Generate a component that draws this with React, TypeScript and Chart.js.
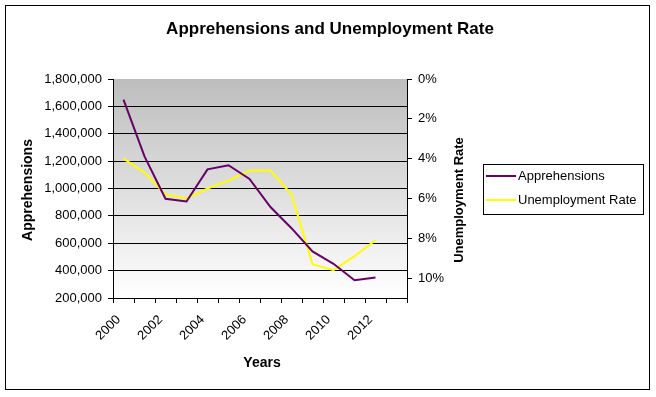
import React, { useEffect, useRef } from "react";
import { Chart, registerables } from "chart.js";

Chart.register(...registerables);

const years = ["2000","2001","2002","2003","2004","2005","2006","2007","2008","2009","2010","2011","2012","2013"];
const apprehensions = [1650000, 1235000, 925000, 905000, 1140000, 1170000, 1070000, 865000, 710000, 540000, 450000, 330000, 350000];
const unemploymentRate = [4.0, 4.7, 5.8, 6.0, 5.5, 5.1, 4.6, 4.6, 5.8, 9.3, 9.6, 8.9, 8.1];

const titleText = "Apprehensions and Unemployment Rate";
const leftTitle = "Apprehensions";
const rightTitle = "Unemployment Rate";
const xTitle = "Years";

const PURPLE = "#660066";
const YELLOW = "#FFFF00";
const FONT = "'Liberation Sans', Arial, sans-serif";

const decorPlugin = {
  id: "decor",
  beforeDraw(chart: any) {
    const { ctx, chartArea: a } = chart;
    ctx.save();
    const g = ctx.createLinearGradient(0, a.top, 0, a.bottom);
    g.addColorStop(0, "#BDBDBD");
    g.addColorStop(1, "#FFFFFF");
    ctx.fillStyle = g;
    ctx.fillRect(a.left, a.top, a.right - a.left, a.bottom - a.top);
    ctx.restore();
  },
  afterDraw(chart: any) {
    const { ctx } = chart;
    ctx.save();
    ctx.fillStyle = "#000";
    ctx.textAlign = "center";
    ctx.textBaseline = "middle";
    ctx.font = `bold 17px ${FONT}`;
    ctx.fillText(titleText, 330, 29);
    ctx.font = `bold 14px ${FONT}`;
    ctx.fillText(xTitle, 262, 363);
    ctx.save();
    ctx.translate(28, 190);
    ctx.rotate(-Math.PI / 2);
    ctx.fillText(leftTitle, 0, 0);
    ctx.restore();
    ctx.save();
    ctx.font = `bold 13px ${FONT}`;
    ctx.translate(459, 200);
    ctx.rotate(-Math.PI / 2);
    ctx.fillText(rightTitle, 0, 0);
    ctx.restore();

    // legend
    ctx.strokeStyle = "#000";
    ctx.lineWidth = 1;
    ctx.strokeRect(483.5, 164.5, 160, 50);
    const ds = chart.data.datasets;
    const rows = [176, 200];
    ctx.font = `13px ${FONT}`;
    ctx.textAlign = "left";
    ds.forEach((d: any, i: number) => {
      ctx.strokeStyle = d.borderColor;
      ctx.lineWidth = 2;
      ctx.beginPath();
      ctx.moveTo(486, rows[i]);
      ctx.lineTo(516, rows[i]);
      ctx.stroke();
      ctx.fillStyle = "#000";
      ctx.fillText(d.label, 518, rows[i]);
    });

    // outer border
    ctx.strokeStyle = "#000";
    ctx.lineWidth = 1;
    ctx.strokeRect(5.5, 5.5, 644, 384);
    ctx.restore();
  },
};

export default function App() {
  const ref = useRef<HTMLCanvasElement>(null);
  useEffect(() => {
    if (!ref.current) return;
    const tickFont = { family: FONT, size: 13 };
    const chart = new Chart(ref.current, {
      type: "line",
      data: {
        labels: years,
        datasets: [
          {
            label: "Apprehensions",
            data: apprehensions,
            borderColor: PURPLE,
            backgroundColor: PURPLE,
            borderWidth: 2,
            pointRadius: 0,
            tension: 0,
            yAxisID: "y",
          },
          {
            label: "Unemployment Rate",
            data: unemploymentRate,
            borderColor: YELLOW,
            backgroundColor: YELLOW,
            borderWidth: 2,
            pointRadius: 0,
            tension: 0,
            yAxisID: "y1",
          },
        ],
      },
      options: {
        responsive: false,
        animation: false,
        layout: { padding: { left: 0, top: 79, right: 189, bottom: 44 } },
        plugins: { legend: { display: false }, title: { display: false }, tooltip: { enabled: false } },
        scales: {
          x: {
            type: "category",
            offset: true,
            grid: { offset: true, drawOnChartArea: false, tickLength: 5, color: "#000", tickColor: "#000" },
            border: { display: true, color: "#000", width: 1 },
            ticks: {
              autoSkip: false,
              minRotation: 45,
              maxRotation: 45,
              padding: 9,
              labelOffset: -5,
              color: "#000",
              font: tickFont,
              callback: (_v: any, i: number) => (i % 2 === 0 && i < apprehensions.length ? years[i] : ""),
            },
            afterFit: (s: any) => { s.height = 55; },
          },
          y: {
            position: "left",
            min: 200000,
            max: 1800000,
            grid: {
              tickLength: 5,
              tickColor: "#000",
              color: (c: any) => (c.tick && c.tick.value === 1800000 ? "rgba(0,0,0,0)" : "#000"),
            },
            border: { display: true, color: "#000", width: 1 },
            ticks: {
              stepSize: 200000,
              padding: 6,
              color: "#000",
              font: tickFont,
              callback: (v: any) => Number(v).toLocaleString("en-US"),
            },
            afterFit: (s: any) => { s.width = 113; },
          },
          y1: {
            position: "right",
            reverse: true,
            min: 0,
            max: 11,
            grid: { drawOnChartArea: false, tickLength: 5, color: "#000", tickColor: "#000" },
            border: { display: true, color: "#000", width: 1 },
            ticks: {
              stepSize: 2,
              includeBounds: false,
              padding: 6,
              color: "#000",
              font: tickFont,
              callback: (v: any) => `${v}%`,
            },
            afterFit: (s: any) => { s.width = 60; },
          },
        },
      },
      plugins: [decorPlugin],
    } as any);
    return () => chart.destroy();
  }, []);
  return (
    <div style={{ position: "absolute", left: 0, top: 0, width: 656, height: 397, background: "#fff" }}>
      <canvas ref={ref} width={656} height={397} style={{ display: "block" }} />
    </div>
  );
}
